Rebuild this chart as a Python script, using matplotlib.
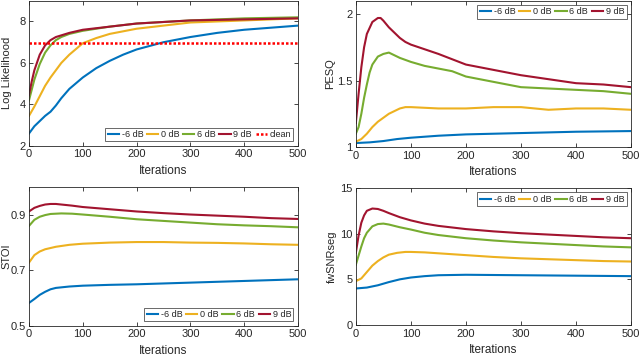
"""Four-panel convergence plot: LLR, PESQ, STOI and fwSNRseg versus iterations."""

import matplotlib

matplotlib.use("Agg")
import matplotlib.pyplot as plt

plt.rcParams["font.family"] = ["Liberation Sans", "DejaVu Sans"]

INK = "#262626"
COLORS = ["#0072BD", "#EDB120", "#77AC30", "#A2142F"]
LABELS = ["-6 dB", "0 dB", "6 dB", "9 dB"]

# Log likelihood
llr_x = [
    [0, 10, 20, 30, 40, 50, 60, 75, 100, 125, 150, 175, 200, 250, 300, 350, 400, 450, 500],
    [0, 10, 20, 30, 40, 50, 60, 75, 100, 125, 150, 200, 250, 300, 400, 500],
    [0, 5, 10, 20, 30, 40, 50, 60, 75, 100, 150, 200, 300, 400, 500],
    [0, 5, 10, 20, 30, 40, 50, 75, 100, 150, 200, 300, 400, 500],
]
llr_y = [
    [2.6, 2.95, 3.2, 3.45, 3.65, 3.95, 4.3, 4.75, 5.3, 5.75, 6.1, 6.4, 6.65, 7.0, 7.25, 7.45, 7.6, 7.7, 7.8],
    [3.45, 3.9, 4.4, 4.9, 5.3, 5.65, 6.0, 6.4, 6.95, 7.2, 7.4, 7.65, 7.8, 7.95, 8.05, 8.15],
    [4.2, 4.7, 5.2, 5.95, 6.5, 6.85, 7.1, 7.25, 7.4, 7.55, 7.75, 7.9, 8.05, 8.15, 8.2],
    [4.45, 5.1, 5.65, 6.4, 6.85, 7.1, 7.25, 7.45, 7.6, 7.75, 7.9, 8.05, 8.1, 8.15],
]
llr_clean = 6.98

# PESQ
pesq_x = [
    [0, 25, 50, 75, 100, 150, 200, 250, 300, 400, 500],
    [0, 10, 20, 30, 40, 50, 60, 70, 80, 90, 100, 150, 200, 250, 300, 350, 400, 450, 500],
    [0, 5, 10, 15, 20, 25, 30, 40, 50, 60, 70, 80, 100, 125, 150, 175, 200, 250, 300, 350, 400, 450, 500],
    [0, 5, 10, 15, 20, 30, 40, 45, 50, 60, 70, 80, 90, 100, 150, 200, 250, 300, 350, 400, 450, 500],
]
pesq_y = [
    [1.03, 1.035, 1.045, 1.06, 1.07, 1.085, 1.095, 1.10, 1.105, 1.115, 1.12],
    [1.04, 1.06, 1.10, 1.15, 1.19, 1.22, 1.25, 1.27, 1.29, 1.30, 1.30, 1.29, 1.29, 1.30, 1.30, 1.28, 1.29, 1.29, 1.28],
    [1.10, 1.15, 1.25, 1.37, 1.47, 1.56, 1.62, 1.68, 1.70, 1.71, 1.69, 1.67, 1.64, 1.61, 1.59, 1.57, 1.53, 1.49, 1.45, 1.44, 1.43, 1.42, 1.40],
    [1.18, 1.40, 1.60, 1.75, 1.85, 1.94, 1.97, 1.97, 1.95, 1.90, 1.86, 1.82, 1.79, 1.77, 1.70, 1.62, 1.58, 1.54, 1.51, 1.48, 1.47, 1.45],
]

# STOI
stoi_x = [
    [0, 10, 20, 30, 40, 50, 75, 100, 150, 200, 250, 300, 350, 400, 450, 500],
    [0, 10, 20, 30, 50, 75, 100, 150, 200, 250, 300, 350, 400, 450, 500],
    [0, 10, 20, 30, 40, 60, 80, 100, 150, 200, 250, 300, 350, 400, 450, 500],
    [0, 10, 20, 30, 40, 50, 60, 80, 100, 150, 200, 250, 300, 350, 400, 450, 500],
]
stoi_y = [
    [0.583, 0.597, 0.612, 0.623, 0.632, 0.637, 0.642, 0.645, 0.648, 0.650, 0.653, 0.656, 0.659, 0.662, 0.665, 0.668],
    [0.728, 0.755, 0.768, 0.776, 0.785, 0.792, 0.796, 0.800, 0.802, 0.802, 0.800, 0.799, 0.797, 0.794, 0.792],
    [0.860, 0.882, 0.893, 0.899, 0.903, 0.905, 0.904, 0.901, 0.893, 0.884, 0.878, 0.872, 0.866, 0.862, 0.859, 0.855],
    [0.912, 0.925, 0.932, 0.937, 0.939, 0.939, 0.937, 0.933, 0.928, 0.920, 0.912, 0.906, 0.901, 0.897, 0.893, 0.888, 0.885],
]

# fwSNRseg
snr_x = [
    [0, 20, 40, 60, 80, 100, 125, 150, 200, 300, 400, 500],
    [0, 10, 20, 30, 40, 50, 60, 75, 90, 100, 125, 150, 200, 250, 300, 350, 400, 450, 500],
    [0, 5, 10, 15, 20, 30, 40, 50, 60, 80, 100, 125, 150, 200, 250, 300, 350, 400, 450, 500],
    [0, 5, 10, 15, 20, 30, 40, 50, 60, 80, 100, 125, 150, 200, 250, 300, 350, 400, 450, 500],
]
snr_y = [
    [4.0, 4.1, 4.35, 4.7, 5.0, 5.2, 5.35, 5.45, 5.5, 5.45, 5.4, 5.35],
    [4.8, 5.1, 5.8, 6.5, 7.0, 7.4, 7.7, 7.9, 8.0, 8.0, 7.95, 7.85, 7.65, 7.45, 7.3, 7.2, 7.1, 7.0, 6.95],
    [6.6, 7.6, 8.6, 9.5, 10.1, 10.8, 11.05, 11.1, 11.0, 10.7, 10.45, 10.1, 9.85, 9.5, 9.25, 9.05, 8.9, 8.75, 8.6, 8.5],
    [7.9, 9.8, 11.2, 12.0, 12.5, 12.75, 12.7, 12.5, 12.25, 11.8, 11.45, 11.1, 10.85, 10.5, 10.25, 10.05, 9.9, 9.75, 9.6, 9.5],
]


def style_axes(ax, ylabel, ylim, yticks, label_x):
    ax.set_xlim(0, 500)
    ax.set_ylim(*ylim)
    ax.set_xticks([0, 100, 200, 300, 400, 500])
    ax.set_yticks(yticks)
    ax.tick_params(direction="in", top=True, right=True, length=3, width=0.6,
                   labelsize=8, colors=INK, pad=2.5)
    for spine in ax.spines.values():
        spine.set_color(INK)
        spine.set_linewidth(0.6)
    ax.set_xlabel("Iterations", fontsize=8.5, color=INK, labelpad=4)
    ax.set_ylabel(ylabel, fontsize=8, color=INK)
    ax.yaxis.set_label_coords(label_x, 0.5)


def add_legend(ax, loc, ncol):
    leg = ax.legend(loc=loc, ncol=ncol, fontsize=6.5, frameon=True, fancybox=False,
                    edgecolor=INK, handlelength=1.25, handletextpad=0.3,
                    columnspacing=0.4, borderpad=0.25, borderaxespad=0.5)
    leg.get_frame().set_linewidth(0.6)
    for text in leg.get_texts():
        text.set_color(INK)


fig = plt.figure(figsize=(6.4, 3.56), dpi=100)
ax1 = fig.add_axes([0.0453, 0.590, 0.4203, 0.408])
ax2 = fig.add_axes([0.556, 0.587, 0.430, 0.411])
ax3 = fig.add_axes([0.0453, 0.0843, 0.4203, 0.3904])
ax4 = fig.add_axes([0.556, 0.087, 0.430, 0.385])

for xs, ys, color, label in zip(llr_x, llr_y, COLORS, LABELS):
    ax1.plot(xs, ys, color=color, lw=1.5, label=label)
ax1.axhline(llr_clean, color="#FF0000", lw=1.8, ls=(0, (1, 0.8)), label="clean")
style_axes(ax1, "Log Likelihood", (2, 9), [2, 4, 6, 8], -0.064)
add_legend(ax1, "lower right", 5)

for xs, ys, color, label in zip(pesq_x, pesq_y, COLORS, LABELS):
    ax2.plot(xs, ys, color=color, lw=1.5, label=label)
style_axes(ax2, "PESQ", (1, 2.1), [1, 1.5, 2], -0.075)
ax2.set_yticklabels(["1", "1.5", "2"])
add_legend(ax2, "upper right", 4)

for xs, ys, color, label in zip(stoi_x, stoi_y, COLORS, LABELS):
    ax3.plot(xs, ys, color=color, lw=1.5, label=label)
style_axes(ax3, "STOI", (0.5, 1.0), [0.5, 0.7, 0.9], -0.066)
add_legend(ax3, "lower right", 4)

for xs, ys, color, label in zip(snr_x, snr_y, COLORS, LABELS):
    ax4.plot(xs, ys, color=color, lw=1.5, label=label)
style_axes(ax4, "fwSNRseg", (0, 15), [0, 5, 10, 15], -0.069)
add_legend(ax4, "upper right", 4)

fig.savefig("out.png", dpi=100, facecolor="white")
